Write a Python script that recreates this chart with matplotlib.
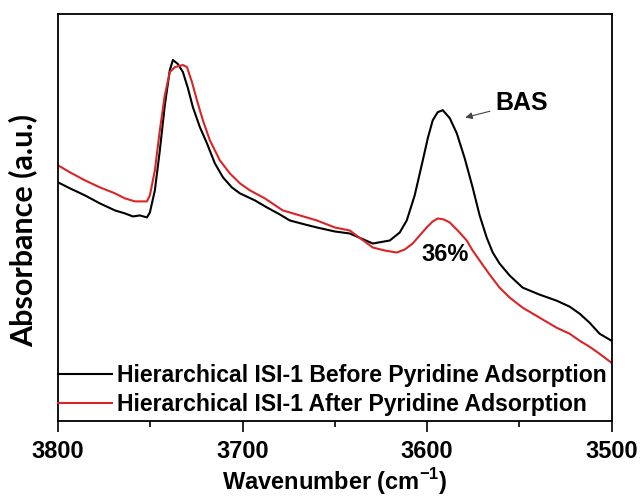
import numpy as np
import matplotlib.pyplot as plt

# wavenumber (cm-1) and absorbance
wn_before = [3800.0, 3793.5, 3785.4, 3777.3, 3769.1, 3763.7, 3759.4, 3755.6, 3751.8, 3750.2,
             3747.5, 3744.8, 3742.1, 3739.4, 3737.7, 3735.0, 3732.3, 3729.6, 3726.9, 3723.1,
             3719.3, 3715.0, 3710.6, 3705.8, 3701.4, 3693.3, 3686.8, 3679.8, 3674.4, 3666.2,
             3659.7, 3650.0, 3641.9, 3629.4, 3620.2, 3614.8, 3611.0, 3606.7, 3602.3, 3599.6,
             3596.9, 3594.2, 3591.5, 3587.7, 3583.9, 3579.6, 3575.3, 3571.5, 3567.7, 3564.4,
             3560.7, 3555.2, 3548.2, 3539.0, 3529.8, 3522.7, 3517.3, 3511.9, 3506.5, 3500.0]
abs_before = [0.595, 0.580, 0.5625, 0.5425, 0.525, 0.5175, 0.510, 0.5125, 0.5075, 0.520,
              0.575, 0.675, 0.7875, 0.875, 0.900, 0.890, 0.870, 0.830, 0.7825, 0.7325,
              0.6925, 0.6425, 0.6075, 0.5825, 0.5675, 0.550, 0.5325, 0.515, 0.500, 0.490,
              0.4825, 0.4725, 0.4675, 0.4425, 0.450, 0.470, 0.500, 0.5625, 0.650, 0.705,
              0.750, 0.770, 0.775, 0.755, 0.7175, 0.655, 0.5825, 0.5125, 0.4575, 0.420,
              0.3925, 0.3625, 0.3325, 0.315, 0.300, 0.285, 0.2675, 0.245, 0.2175, 0.200]

wn_after = [3800.0, 3793.5, 3785.4, 3777.3, 3769.1, 3763.7, 3758.3, 3751.8, 3750.2, 3747.5,
            3744.8, 3742.1, 3739.4, 3736.6, 3732.3, 3730.1, 3727.4, 3724.7, 3721.5, 3717.7,
            3712.3, 3706.9, 3701.4, 3696.0, 3687.9, 3678.2, 3668.9, 3659.7, 3650.0, 3641.9,
            3629.4, 3622.9, 3616.4, 3612.1, 3607.8, 3604.0, 3600.2, 3596.9, 3594.2, 3591.0,
            3587.7, 3583.4, 3578.5, 3575.3, 3571.5, 3566.1, 3560.7, 3555.2, 3548.2, 3539.0,
            3529.8, 3522.7, 3517.3, 3511.9, 3506.5, 3500.0]
abs_after = [0.6375, 0.620, 0.600, 0.5825, 0.5675, 0.555, 0.5475, 0.5475, 0.5625, 0.625,
             0.725, 0.8125, 0.870, 0.8825, 0.8875, 0.8825, 0.845, 0.800, 0.750, 0.700,
             0.650, 0.6175, 0.5925, 0.575, 0.555, 0.525, 0.5125, 0.500, 0.4825, 0.475,
             0.4325, 0.425, 0.420, 0.4275, 0.4425, 0.4625, 0.4825, 0.4975, 0.505, 0.5025,
             0.495, 0.475, 0.450, 0.425, 0.400, 0.365, 0.3325, 0.3075, 0.2825, 0.2575,
             0.2325, 0.2175, 0.200, 0.185, 0.1675, 0.145]

labels = ['Hierarchical ISI-1 Before Pyridine Adsorption',
          'Hierarchical ISI-1 After Pyridine Adsorption']

plt.rcParams['font.family'] = ['Liberation Sans', 'DejaVu Sans']
plt.rcParams['mathtext.fontset'] = 'custom'
plt.rcParams['mathtext.rm'] = 'Liberation Sans'
fig = plt.figure(figsize=(6.4, 4.97), dpi=100)
ax = fig.add_axes([0.0906, 0.153, 0.865, 0.819])

ax.plot(wn_before, abs_before, color='black', lw=1.5, label=labels[0])
ax.plot(wn_after, abs_after, color='#d92525', lw=1.5, label=labels[1])

ax.set_xlim(3800, 3500)
ax.set_ylim(0, 1.015)
ax.set_xticks([3800, 3700, 3600, 3500])
ax.set_xticks([3750, 3650, 3550], minor=True)
ax.set_yticks([])
ax.tick_params(axis='x', which='major', length=8, width=1.2, pad=6, labelsize=17)
ax.tick_params(axis='x', which='minor', length=4, width=1.2)
for lab in ax.get_xticklabels():
    lab.set_fontweight('bold')
for s in ax.spines.values():
    s.set_linewidth(1.3)

ax.set_xlabel('Wavenumber (cm$^{\\mathregular{-1}}$)', fontsize=17, fontweight='bold', labelpad=2)
ax.set_ylabel('Absorbance (a.u.)', fontsize=22, fontweight='bold', family='Lato')
ax.yaxis.set_label_coords(-0.038, 0.469)

ax.annotate('BAS', xy=(3580.7, 0.755), xytext=(3563.0, 0.7925),
            fontsize=18, fontweight='bold', va='center', ha='left',
            arrowprops=dict(arrowstyle='-|>', color='#444444', lw=0.8, mutation_scale=10))
ax.text(3590.4, 0.415, '36%', fontsize=17, fontweight='bold', ha='center', va='center')

leg = ax.legend(loc='lower left', bbox_to_anchor=(0.0, 0.012), frameon=False, handlelength=2.35,
                handletextpad=0.2, borderaxespad=0.0, borderpad=0.0, labelspacing=0.28,
                prop={'weight': 'bold', 'size': 16.6})

fig.savefig('out.png', dpi=100)
